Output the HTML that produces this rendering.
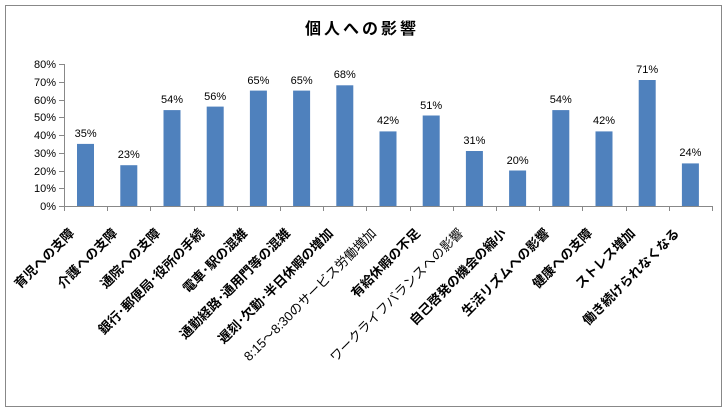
<!DOCTYPE html>
<html><head><meta charset="utf-8"><style>
html,body{margin:0;padding:0;background:#fff;}
svg text{font-family:"Liberation Sans","Noto Sans CJK JP",sans-serif;}
</style></head><body>
<svg width="728" height="412" viewBox="0 0 728 412" xmlns="http://www.w3.org/2000/svg">
<rect x="5.5" y="5.5" width="716" height="401" fill="#fff" stroke="#888" stroke-width="1"/>
<text x="362" y="34" text-anchor="middle" font-size="16" font-weight="bold" letter-spacing="3">個人への影響</text>
<g stroke="#888" stroke-width="1">
<line x1="64.5" y1="64" x2="64.5" y2="206.5"/>
<line x1="64" y1="206.5" x2="712" y2="206.5"/>
<line x1="59" y1="64.5" x2="64" y2="64.5"/><line x1="59" y1="82.5" x2="64" y2="82.5"/><line x1="59" y1="100.5" x2="64" y2="100.5"/><line x1="59" y1="117.5" x2="64" y2="117.5"/><line x1="59" y1="135.5" x2="64" y2="135.5"/><line x1="59" y1="153.5" x2="64" y2="153.5"/><line x1="59" y1="171.5" x2="64" y2="171.5"/><line x1="59" y1="188.5" x2="64" y2="188.5"/><line x1="59" y1="206.5" x2="64" y2="206.5"/>
<line x1="64.5" y1="206" x2="64.5" y2="211"/><line x1="107.5" y1="206" x2="107.5" y2="211"/><line x1="150.5" y1="206" x2="150.5" y2="211"/><line x1="194.5" y1="206" x2="194.5" y2="211"/><line x1="237.5" y1="206" x2="237.5" y2="211"/><line x1="280.5" y1="206" x2="280.5" y2="211"/><line x1="323.5" y1="206" x2="323.5" y2="211"/><line x1="366.5" y1="206" x2="366.5" y2="211"/><line x1="410.5" y1="206" x2="410.5" y2="211"/><line x1="453.5" y1="206" x2="453.5" y2="211"/><line x1="496.5" y1="206" x2="496.5" y2="211"/><line x1="539.5" y1="206" x2="539.5" y2="211"/><line x1="582.5" y1="206" x2="582.5" y2="211"/><line x1="626.5" y1="206" x2="626.5" y2="211"/><line x1="669.5" y1="206" x2="669.5" y2="211"/><line x1="712.5" y1="206" x2="712.5" y2="211"/>
</g>
<g font-size="11" text-anchor="end" fill="#000">
<text x="56" y="68">80%</text><text x="56" y="86">70%</text><text x="56" y="104">60%</text><text x="56" y="121">50%</text><text x="56" y="139">40%</text><text x="56" y="157">30%</text><text x="56" y="175">20%</text><text x="56" y="192">10%</text><text x="56" y="210">0%</text>
</g>
<g fill="#4f81bd">
<rect x="77" y="143.9" width="17" height="62.1"/>
<rect x="120.3" y="165.2" width="17" height="40.8"/>
<rect x="163.5" y="110.1" width="17" height="95.9"/>
<rect x="206.7" y="106.6" width="17" height="99.4"/>
<rect x="249.9" y="90.6" width="17" height="115.4"/>
<rect x="293.1" y="90.6" width="17" height="115.4"/>
<rect x="336.3" y="85.3" width="17" height="120.7"/>
<rect x="379.5" y="131.4" width="17" height="74.6"/>
<rect x="422.7" y="115.5" width="17" height="90.5"/>
<rect x="465.9" y="151" width="17" height="55"/>
<rect x="509.1" y="170.5" width="17" height="35.5"/>
<rect x="552.3" y="110.1" width="17" height="95.9"/>
<rect x="595.5" y="131.4" width="17" height="74.6"/>
<rect x="638.7" y="80" width="17" height="126"/>
<rect x="681.9" y="163.4" width="17" height="42.6"/>
</g>
<g font-size="11" text-anchor="middle" fill="#000">
<text x="85.6" y="137">35%</text><text x="128.8" y="158">23%</text><text x="172" y="103">54%</text><text x="215.2" y="100">56%</text><text x="258.4" y="84">65%</text><text x="301.6" y="84">65%</text><text x="344.8" y="78">68%</text><text x="388" y="124">42%</text><text x="431.2" y="109">51%</text><text x="474.4" y="144">31%</text><text x="517.6" y="164">20%</text><text x="560.8" y="103">54%</text><text x="604" y="124">42%</text><text x="647.2" y="73">71%</text><text x="690.4" y="156">24%</text>
</g>
<g font-size="13" text-anchor="end" fill="#000" font-weight="bold">
<text transform="translate(75,234) rotate(-45)">育児への支障</text>
<text transform="translate(118,234) rotate(-45)">介護への支障</text>
<text transform="translate(161,234) rotate(-45)">通院への支障</text>
<text transform="translate(205,234) rotate(-45)">銀行･郵便局･役所の手続</text>
<text transform="translate(248,234) rotate(-45)">電車･駅の混雑</text>
<text transform="translate(291,234) rotate(-45)">通勤経路･通用門等の混雑</text>
<text transform="translate(334,234) rotate(-45)">遅刻･欠勤･半日休暇の増加</text>
<text transform="translate(377,234) rotate(-45)" font-weight="normal">8:15～8:30のサービス労働増加</text>
<text transform="translate(421,234) rotate(-45)">有給休暇の不足</text>
<text transform="translate(464,234) rotate(-45)" font-weight="normal">ワークライフバランスへの影響</text>
<text transform="translate(507,234) rotate(-45)">自己啓発の機会の縮小</text>
<text transform="translate(550,234) rotate(-45)">生活リズムへの影響</text>
<text transform="translate(593,234) rotate(-45)">健康への支障</text>
<text transform="translate(636,234) rotate(-45)">ストレス増加</text>
<text transform="translate(680,234) rotate(-45)">働き続けられなくなる</text>
</g>
</svg>
</body></html>
